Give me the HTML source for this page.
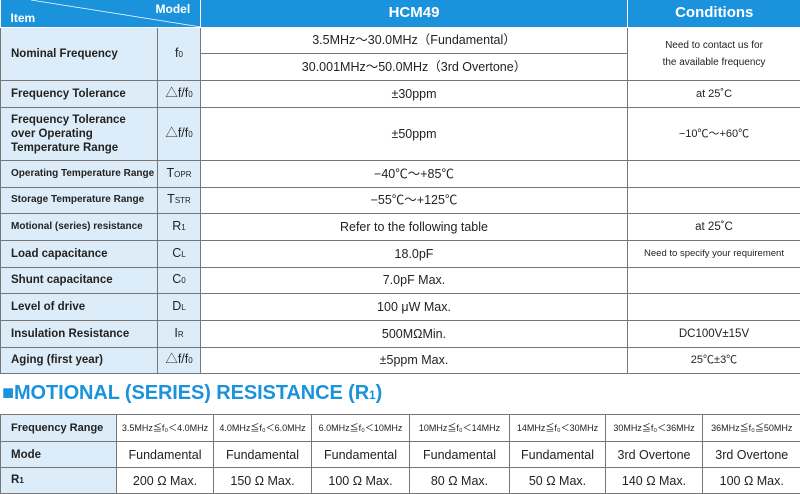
<!DOCTYPE html><html><head><meta charset="utf-8"><style>
body{margin:0;width:800px;height:494px;background:#fff;font-family:"Liberation Sans","Noto Sans CJK JP",sans-serif;color:#222;overflow:hidden;position:relative}
table{border-collapse:collapse;table-layout:fixed;position:absolute;left:0}
td{border:1px solid #777;text-align:center;padding:0;font-size:12.5px;line-height:14px}
td.l{background:#dcedf9;text-align:left;padding-left:10px;font-weight:bold;font-size:11.5px}
td.s{background:#dcedf9}
.h td{background:#1a93dc;color:#fff;font-weight:bold;font-size:15px;border-color:#fff;border-top:none}
.c{font-size:10px}
sub{font-size:8px;vertical-align:baseline}
</style></head><body>
<table id="t1" style="top:0;width:800px">
<colgroup><col style="width:157px"><col style="width:43px"><col style="width:427px"><col style="width:173px"></colgroup>
<tr class="h" style="height:27px"><td colspan="2" style="position:relative;text-align:left;border-left:none"><svg style="position:absolute;left:0;top:0" width="200" height="27"><line x1="30" y1="0" x2="200" y2="27" stroke="#fff" stroke-width="0.7"/></svg><span style="position:absolute;left:10px;top:11px;font-size:12px">Item</span><span style="position:absolute;left:155px;top:2px;font-size:12px">Model</span></td><td>HCM49</td><td style="border-right:none">Conditions</td></tr>
<tr style="height:26px"><td class="l" rowspan="2">Nominal Frequency</td><td rowspan="2" class="s">f<sub>0</sub></td><td>3.5MHz～30.0MHz（Fundamental）</td><td rowspan="2" class="c" style="line-height:17px">Need to contact us for<br>the available frequency</td></tr>
<tr style="height:27px"><td>30.001MHz～50.0MHz（3rd Overtone）</td></tr>
<tr style="height:27px"><td class="l">Frequency Tolerance</td><td class="s">△f/f<sub>0</sub></td><td>±30ppm</td><td style="font-size:11px">at 25˚C</td></tr>
<tr style="height:53px"><td class="l">Frequency Tolerance<br>over Operating<br>Temperature Range</td><td class="s">△f/f<sub>0</sub></td><td>±50ppm</td><td style="font-size:11px">−10℃～+60℃</td></tr>
<tr style="height:27px"><td class="l" style="font-size:10px">Operating Temperature Range</td><td class="s">T<sub>OPR</sub></td><td>−40℃～+85℃</td><td></td></tr>
<tr style="height:26px"><td class="l" style="font-size:10px">Storage Temperature Range</td><td class="s">T<sub>STR</sub></td><td>−55℃～+125℃</td><td></td></tr>
<tr style="height:27px"><td class="l" style="font-size:10px">Motional (series) resistance</td><td class="s">R<sub>1</sub></td><td>Refer to the following table</td><td style="font-size:11.5px">at 25˚C</td></tr>
<tr style="height:27px"><td class="l">Load capacitance</td><td class="s">C<sub>L</sub></td><td>18.0pF</td><td class="c" style="font-size:9.5px">Need to specify your requirement</td></tr>
<tr style="height:26px"><td class="l">Shunt capacitance</td><td class="s">C<sub>0</sub></td><td>7.0pF Max.</td><td></td></tr>
<tr style="height:27px"><td class="l">Level of drive</td><td class="s">D<sub>L</sub></td><td>100 μW Max.</td><td></td></tr>
<tr style="height:27px"><td class="l">Insulation Resistance</td><td class="s">I<sub>R</sub></td><td>500MΩMin.</td><td style="font-size:11.5px">DC100V±15V</td></tr>
<tr style="height:26px"><td class="l">Aging (first year)</td><td class="s">△f/f<sub>0</sub></td><td>±5ppm Max.</td><td style="font-size:11px">25℃±3℃</td></tr>
</table>
<div style="position:absolute;left:2px;top:382px;font-size:20px;font-weight:bold;color:#1a93dc;letter-spacing:-0.1px;white-space:nowrap">■MOTIONAL (SERIES) RESISTANCE (R<sub style="font-size:12px">1</sub>)</div>
<table style="top:414px;width:800px">
<colgroup><col style="width:116px"><col style="width:97px"><col style="width:98px"><col style="width:98px"><col style="width:100px"><col style="width:96px"><col style="width:97px"><col style="width:98px"></colgroup>
<tr style="height:27px"><td class="l" style="font-size:11px">Frequency Range</td><td style="font-size:9px">3.5MHz≦f₀＜4.0MHz</td><td style="font-size:9px">4.0MHz≦f₀＜6.0MHz</td><td style="font-size:9px">6.0MHz≦f₀＜10MHz</td><td style="font-size:9px">10MHz≦f₀＜14MHz</td><td style="font-size:9px">14MHz≦f₀＜30MHz</td><td style="font-size:9px">30MHz≦f₀＜36MHz</td><td style="font-size:9px;border-right:none">36MHz≦f₀≦50MHz</td></tr>
<tr style="height:26px"><td class="l">Mode</td><td>Fundamental</td><td>Fundamental</td><td>Fundamental</td><td>Fundamental</td><td>Fundamental</td><td>3rd Overtone</td><td style="border-right:none">3rd Overtone</td></tr>
<tr style="height:26px"><td class="l">R<sub>1</sub></td><td>200 Ω Max.</td><td>150 Ω Max.</td><td>100 Ω Max.</td><td>80 Ω Max.</td><td>50 Ω Max.</td><td>140 Ω Max.</td><td style="border-right:none">100 Ω Max.</td></tr>
</table>
</body></html>
